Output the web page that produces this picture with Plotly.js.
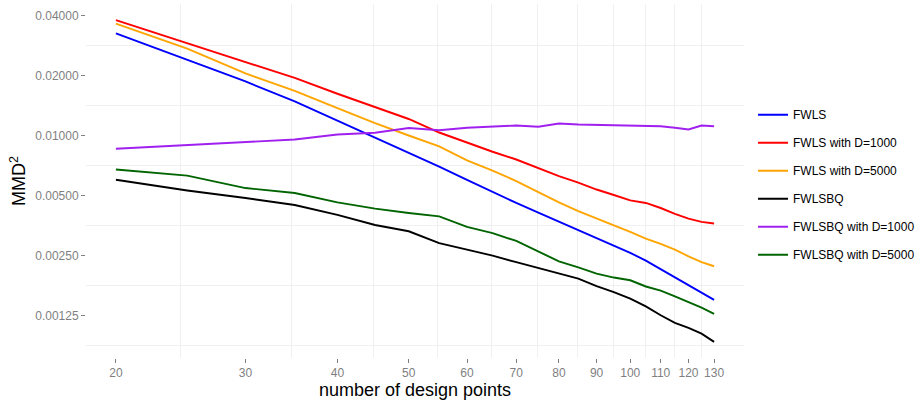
<!DOCTYPE html>
<html>
<head>
<meta charset="utf-8">
<script src="https://cdn.plot.ly/plotly-3.0.1.min.js"></script>
<style>html,body{margin:0;padding:0;background:#fff;}#chart{width:920px;height:402px;}</style>
</head>
<body>
<div id="chart"></div>
<script>
var designPoints = [20, 25, 30, 35, 40, 45, 50, 55, 60, 65, 70, 75, 80, 85, 90, 95, 100, 105, 110, 115, 120, 125, 130];

var fwls = [0.03249, 0.02392, 0.01866, 0.01481, 0.01186, 0.00975, 0.00818, 0.00699, 0.00599, 0.00520, 0.00459, 0.00411, 0.00370, 0.00337, 0.00307, 0.00281, 0.00258, 0.00236, 0.00214, 0.00193, 0.00177, 0.00163, 0.00150];
var fwlsD1000 = [0.03789, 0.02911, 0.02343, 0.01943, 0.01619, 0.01388, 0.01210, 0.01035, 0.00920, 0.00829, 0.00758, 0.00687, 0.00626, 0.00581, 0.00536, 0.00503, 0.00473, 0.00459, 0.00433, 0.00405, 0.00383, 0.00369, 0.00362];
var fwlsD5000 = [0.03634, 0.02723, 0.02047, 0.01672, 0.01371, 0.01153, 0.01000, 0.00881, 0.00751, 0.00667, 0.00591, 0.00518, 0.00462, 0.00418, 0.00382, 0.00354, 0.00329, 0.00304, 0.00286, 0.00268, 0.00248, 0.00232, 0.00221];
var fwlsbq = [0.00600, 0.00530, 0.00486, 0.00448, 0.00400, 0.00356, 0.00331, 0.002885, 0.00268, 0.00250, 0.002316, 0.002169, 0.002025, 0.001916, 0.001756, 0.00164, 0.00152, 0.00139, 0.001255, 0.00115, 0.001084, 0.001015, 0.000923];
var fwlsbqD1000 = [0.00858, 0.00895, 0.00928, 0.00955, 0.01012, 0.01033, 0.01091, 0.01063, 0.01093, 0.01106, 0.01122, 0.01106, 0.01149, 0.01136, 0.01132, 0.01126, 0.01126, 0.01120, 0.01113, 0.01093, 0.01072, 0.01122, 0.01113];
var fwlsbqD5000 = [0.00675, 0.00629, 0.00545, 0.00515, 0.00462, 0.00430, 0.00409, 0.00393, 0.00348, 0.00324, 0.00296, 0.00261, 0.00234, 0.00218, 0.00203, 0.00194, 0.00188, 0.00175, 0.00167, 0.00156, 0.001465, 0.00137, 0.001275];

var seriesNames = ["FWLS", "FWLS with D=1000", "FWLS with D=5000", "FWLSBQ", "FWLSBQ with D=1000", "FWLSBQ with D=5000"];
var seriesColors = ["#0000ff", "#ff0000", "#ffa500", "#000000", "#a020f0", "#006400"];
var seriesValues = [fwls, fwlsD1000, fwlsD5000, fwlsbq, fwlsbqD1000, fwlsbqD5000];

var xTickVals = [20, 30, 40, 50, 60, 70, 80, 90, 100, 110, 120, 130];
var xTickText = ["20", "30", "40", "50", "60", "70", "80", "90", "100", "110", "120", "130"];
var yTickVals = [0.00125, 0.0025, 0.005, 0.01, 0.02, 0.04];
var yTickText = ["0.00125", "0.00250", "0.00500", "0.01000", "0.02000", "0.04000"];

// minor grid lines midway (log scale) between major breaks
function mids(v) { var r = []; for (var i = 0; i < v.length - 1; i++) r.push(Math.sqrt(v[i] * v[i + 1])); return r; }
var xMinor = mids(xTickVals);
var yMinor = [yTickVals[0] / Math.SQRT2].concat(mids(yTickVals));

// ggplot-like 5% expansion of log range
function expRange(vals) {
  var lo = Math.log10(Math.min.apply(null, vals)), hi = Math.log10(Math.max.apply(null, vals));
  var p = 0.05 * (hi - lo); return [lo - p, hi + p];
}
var allY = [].concat.apply([], seriesValues);

var traces = seriesNames.map(function (n, i) {
  return { x: designPoints, y: seriesValues[i], name: n, type: "scatter", mode: "lines",
    legendgroup: "g" + i, line: { color: seriesColors[i], width: 1.9 } };
});

var font = "Liberation Sans, Arial, Helvetica, sans-serif";
var layout = {
  width: 920, height: 402,
  margin: { l: 86, r: 176, t: 4, b: 44, autoexpand: false },
  paper_bgcolor: "#ffffff", plot_bgcolor: "#ffffff",
  font: { family: font, size: 12, color: "#7f7f7f" },
  showlegend: true,
  legend: { x: 1.0137, xanchor: "left", y: 0.4895, yanchor: "middle", font: { size: 12, color: "#000000", family: font },
    tracegroupgap: 9, bgcolor: "rgba(0,0,0,0)" },
  xaxis: { type: "log", range: expRange(designPoints), tickmode: "array", tickvals: xTickVals, ticktext: xTickText,
    ticks: "outside", ticklen: 4, tickcolor: "#7f7f7f", tickwidth: 1, showgrid: false, zeroline: false, showline: false,
    automargin: false, tickfont: { size: 12, color: "#7f7f7f" },
    minor: { tickmode: "array", tickvals: xMinor, showgrid: true, gridcolor: "#f0f0f0", gridwidth: 1, ticks: "" },
    title: { text: "number of design points", font: { size: 18, color: "#000000", family: font }, standoff: 2 } },
  yaxis: { type: "log", range: expRange(allY), tickmode: "array", tickvals: yTickVals, ticktext: yTickText,
    ticks: "outside", ticklen: 4, tickcolor: "#7f7f7f", tickwidth: 1, showgrid: false, zeroline: false, showline: false,
    automargin: false, tickfont: { size: 12, color: "#7f7f7f" },
    minor: { tickmode: "array", tickvals: yMinor, showgrid: true, gridcolor: "#f0f0f0", gridwidth: 1, ticks: "" },
    title: { text: "MMD<sup>2</sup>", font: { size: 18, color: "#000000", family: font }, standoff: 4 } }
};

Plotly.newPlot("chart", traces, layout, { displayModeBar: false, staticPlot: true });
</script>
</body>
</html>
